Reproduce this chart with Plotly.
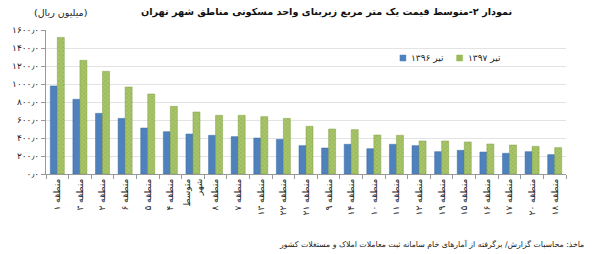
import plotly.graph_objects as go

categories = ["منطقه ۱", "منطقه ۳", "منطقه ۲", "منطقه ۶", "منطقه ۵", "منطقه ۴", "متوسط<br>شهر",
              "منطقه ۸", "منطقه ۷", "منطقه ۱۳", "منطقه ۲۲", "منطقه ۲۱", "منطقه ۹", "منطقه ۱۴",
              "منطقه ۱۰", "منطقه ۱۱", "منطقه ۱۲", "منطقه ۱۹", "منطقه ۱۵", "منطقه ۱۶", "منطقه ۱۷",
              "منطقه ۲۰", "منطقه ۱۸"]
tir_1396 = [978, 830, 674, 618, 511, 470, 444, 430, 415, 400, 385, 315, 289, 330,
            281, 330, 315, 248, 263, 244, 230, 248, 215]
tir_1397 = [1518, 1263, 1141, 967, 889, 752, 689, 652, 652, 637, 618, 530, 500, 493,
            433, 430, 367, 367, 356, 333, 322, 307, 293]
tick_vals = [0, 200, 400, 600, 800, 1000, 1200, 1400, 1600]
tick_text = ["۰٫۰", "۲۰۰٫۰", "۴۰۰٫۰", "۶۰۰٫۰", "۸۰۰٫۰", "۱۰۰۰٫۰", "۱۲۰۰٫۰", "۱۴۰۰٫۰", "۱۶۰۰٫۰"]
series_names = ["تیر ۱۳۹۶", "تیر ۱۳۹۷"]
series_colors = ["#4F81BD", "#9BBB59"]

title = "نمودار ۲-متوسط قیمت یک متر مربع زیربنای واحد مسکونی مناطق شهر تهران"
unit = "(میلیون ریال)"
source = "ماخذ: محاسبات گزارش/ برگرفته از آمارهای خام سامانه ثبت معاملات املاک و مستغلات کشور"

FONT = "DejaVu Sans, sans-serif"

L, R, T, B = 43, 34, 30, 80
W, H = 600, 254
PW, PH = W - L - R, H - T - B


def px_x(x):
    return (x - L) / PW


def px_y(y):
    return 1 - (y - T) / PH


fig = go.Figure()
fig.add_trace(go.Bar(x=categories, y=tir_1396, name=series_names[0],
                     marker=dict(color=series_colors[0], line=dict(width=0.5, color="#3A6AA0"))))
fig.add_trace(go.Bar(x=categories, y=tir_1397, name=series_names[1],
                     marker=dict(color=series_colors[1], line=dict(width=0.5, color="#7F9E43"),
                                 pattern=dict(shape="x", size=3, solidity=0.35,
                                              fgcolor="#7E9C3E", bgcolor="#A9C76A"))))

# custom compact legend
shapes = []
annotations = []
legend_items = [(399, series_names[0], series_colors[0]), (456, series_names[1], series_colors[1])]
for x0, name, col in legend_items:
    shapes.append(dict(type="rect", xref="paper", yref="paper",
                       x0=px_x(x0), x1=px_x(x0 + 6), y0=px_y(61), y1=px_y(55),
                       fillcolor=col, line=dict(width=0.5, color=col)))
    annotations.append(dict(text=name, xref="paper", yref="paper", x=px_x(x0 + 9), y=px_y(58),
                            xanchor="left", yanchor="middle", showarrow=False,
                            font=dict(size=9, color="#222")))

annotations += [
    dict(text="<b>" + title + "</b>", xref="paper", yref="paper", x=px_x(325), y=px_y(12),
         xanchor="center", yanchor="middle", showarrow=False, font=dict(size=9.7, color="#111")),
    dict(text=unit, xref="paper", yref="paper", x=px_x(58), y=px_y(12),
         xanchor="center", yanchor="middle", showarrow=False, font=dict(size=9.5, color="#222")),
    dict(text=source, xref="paper", yref="paper", x=px_x(586), y=px_y(244),
         xanchor="right", yanchor="middle", showarrow=False, font=dict(size=7.8, color="#222")),
]

fig.update_layout(
    width=W, height=H,
    margin=dict(l=L, r=R, t=T, b=B),
    paper_bgcolor="white", plot_bgcolor="white",
    barmode="group", bargap=0.38, bargroupgap=0,
    font=dict(family=FONT, size=9, color="#222"),
    showlegend=False,
    xaxis=dict(type="category", tickangle=-90, ticks="outside", tickson="boundaries",
               ticklen=4, tickcolor="#999", showline=True, linecolor="#999",
               tickfont=dict(size=9, color="#222"), showgrid=False),
    yaxis=dict(range=[0, 1600], tickvals=tick_vals, ticktext=tick_text,
               ticks="outside", ticklen=4, tickcolor="#999", showline=True, linecolor="#999",
               gridcolor="#E3E3E3", gridwidth=1, zeroline=False,
               tickfont=dict(size=9, color="#222")),
    shapes=shapes,
    annotations=annotations,
)

fig.write_html("out.html")
